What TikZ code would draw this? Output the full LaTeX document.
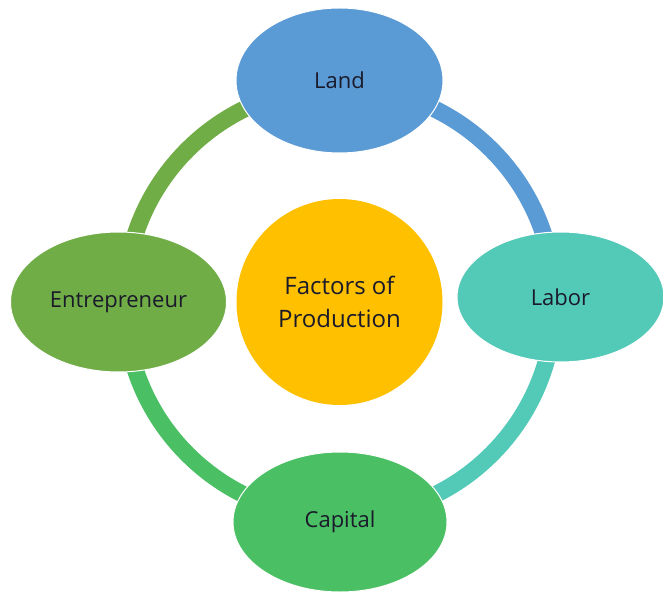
\documentclass[tikz,border=0pt]{standalone}
\usepackage{fontspec}
\setmainfont{Open Sans}
\usetikzlibrary{shapes.geometric,backgrounds,calc}

\definecolor{landblue}{HTML}{5B9BD5}
\definecolor{laborteal}{HTML}{53C9B7}
\definecolor{capitalgreen}{HTML}{4ABF64}
\definecolor{entregreen}{HTML}{70AD47}
\definecolor{coreyellow}{HTML}{FFC000}
\definecolor{labeltext}{HTML}{1A1A2A}

\tikzset{
  factor/.style={ellipse, draw=white, line width=1pt, inner sep=0pt,
    text=labeltext, font=\fontsize{22}{26}\selectfont},
  core/.style={circle, fill=coreyellow, inner sep=0pt, minimum size=206,
    text=labeltext, align=center, font=\fontsize{24}{33}\selectfont},
  ring/.style={line width=17pt, bend left=45}
}

\begin{document}
\begin{tikzpicture}[x=1pt,y=-1pt]
  \useasboundingbox (0,0) rectangle (663,593);

  % the four factors around the centre
  \node[factor, fill=landblue, minimum width=207, minimum height=145] (land) at (339.5,80.5) {Land};
  \node[factor, fill=laborteal, minimum width=207, minimum height=130] (labor) at (560.5,297) {Labor};
  \node[factor, fill=capitalgreen, minimum width=214, minimum height=140] (capital) at (340,522) {Capital};
  \node[factor, fill=entregreen, minimum width=216, minimum height=140] (entre) at (118.5,302) {Entrepreneur};

  % centre circle
  \node[core] (core) at (339.5,302) {Factors of\\Production};

  % points where the ring passes under each factor
  \coordinate (ringN) at ($(core.center)+(0,-215)$);
  \coordinate (ringE) at ($(core.center)+(215,0)$);
  \coordinate (ringS) at ($(core.center)+(0,215)$);
  \coordinate (ringW) at ($(core.center)+(-215,0)$);

  % ring segments joining neighbouring factors
  \begin{scope}[on background layer]
    \draw[ring, landblue] (ringN) to (ringE);
    \draw[ring, laborteal] (ringE) to (ringS);
    \draw[ring, capitalgreen] (ringS) to (ringW);
    \draw[ring, entregreen] (ringW) to (ringN);
  \end{scope}
\end{tikzpicture}
\end{document}
